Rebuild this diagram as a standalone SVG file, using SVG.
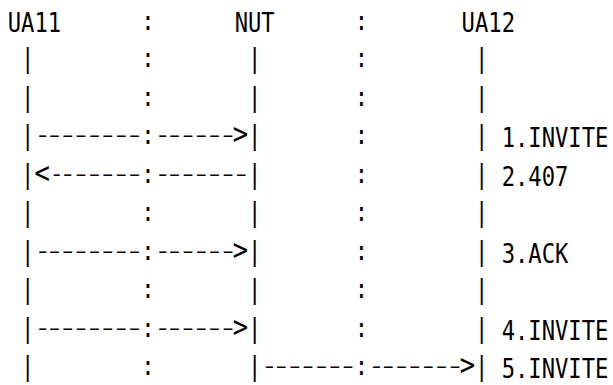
<svg xmlns="http://www.w3.org/2000/svg" width="613" height="385" viewBox="0 0 613 385">
<style>
text{font-family:"DejaVu Sans Mono","Liberation Mono",monospace;font-size:27px;fill:#000}
.d{font-size:20px}
.h{font-size:31px}
</style>
<rect width="613" height="385" fill="#fff"/>
<g transform="translate(7.7 0) scale(0.8213 1)">
<g id="ua11"><text x="0" y="32">UA11</text></g>
<g id="nut"><text x="276.34" y="32">NUT</text></g>
<g id="ua12"><text x="552.67" y="32">UA12</text></g>
<g id="separators">
<text x="162.55" y="30">:</text><text x="422.63" y="30">:</text>
<text x="162.55" y="67.2">:</text><text x="422.63" y="67.2">:</text>
<text x="162.55" y="105.7">:</text><text x="422.63" y="105.7">:</text>
<text x="422.63" y="144.2">:</text>
<text x="422.63" y="182.7">:</text>
<text x="162.55" y="221.2">:</text><text x="422.63" y="221.2">:</text>
<text x="422.63" y="259.7">:</text>
<text x="162.55" y="298.2">:</text><text x="422.63" y="298.2">:</text>
<text x="422.63" y="336.7">:</text>
<text x="162.55" y="375.2">:</text>
</g>
<g id="lifelines">
<text x="16.255" y="67.2">|</text><text x="292.59" y="67.2">|</text><text x="568.93" y="67.2">|</text>
<text x="16.255" y="105.7">|</text><text x="292.59" y="105.7">|</text><text x="568.93" y="105.7">|</text>
<text x="568.93" y="144.2">|</text>
<text x="568.93" y="182.7">|</text>
<text x="16.255" y="221.2">|</text><text x="292.59" y="221.2">|</text><text x="568.93" y="221.2">|</text>
<text x="568.93" y="259.7">|</text>
<text x="16.255" y="298.2">|</text><text x="292.59" y="298.2">|</text><text x="568.93" y="298.2">|</text>
<text x="568.93" y="336.7">|</text>
<text x="16.255" y="375.2">|</text>
</g>
<g id="connectors">
<text><tspan x="16.255" y="144.2">|</tspan><tspan class="d" x="32.51" y="142.2" textLength="20" lengthAdjust="spacingAndGlyphs">-</tspan><tspan class="d" x="44.395" y="142.2" textLength="25" lengthAdjust="spacingAndGlyphs">-</tspan><tspan class="d" x="60.65" y="142.2" textLength="25" lengthAdjust="spacingAndGlyphs">-</tspan><tspan class="d" x="76.905" y="142.2" textLength="25" lengthAdjust="spacingAndGlyphs">-</tspan><tspan class="d" x="93.16" y="142.2" textLength="25" lengthAdjust="spacingAndGlyphs">-</tspan><tspan class="d" x="109.415" y="142.2" textLength="25" lengthAdjust="spacingAndGlyphs">-</tspan><tspan class="d" x="125.67" y="142.2" textLength="25" lengthAdjust="spacingAndGlyphs">-</tspan><tspan class="d" x="141.925" y="142.2" textLength="25" lengthAdjust="spacingAndGlyphs">-</tspan><tspan x="162.55" y="144.2">:</tspan><tspan class="d" x="178.805" y="142.2" textLength="20" lengthAdjust="spacingAndGlyphs">-</tspan><tspan class="d" x="190.69" y="142.2" textLength="25" lengthAdjust="spacingAndGlyphs">-</tspan><tspan class="d" x="206.945" y="142.2" textLength="25" lengthAdjust="spacingAndGlyphs">-</tspan><tspan class="d" x="223.2" y="142.2" textLength="25" lengthAdjust="spacingAndGlyphs">-</tspan><tspan class="d" x="239.455" y="142.2" textLength="25" lengthAdjust="spacingAndGlyphs">-</tspan><tspan class="d" x="255.71" y="142.2" textLength="25" lengthAdjust="spacingAndGlyphs">-</tspan><tspan class="h" x="273.935" y="144.2">&gt;</tspan><tspan x="292.59" y="144.2">|</tspan></text>
<text><tspan x="16.255" y="182.7">|</tspan><tspan class="h" x="32.51" y="182.7">&lt;</tspan><tspan class="d" x="51.17" y="180.7" textLength="17" lengthAdjust="spacingAndGlyphs">-</tspan><tspan class="d" x="63.15" y="180.7" textLength="20" lengthAdjust="spacingAndGlyphs">-</tspan><tspan class="d" x="76.905" y="180.7" textLength="25" lengthAdjust="spacingAndGlyphs">-</tspan><tspan class="d" x="93.16" y="180.7" textLength="25" lengthAdjust="spacingAndGlyphs">-</tspan><tspan class="d" x="109.415" y="180.7" textLength="25" lengthAdjust="spacingAndGlyphs">-</tspan><tspan class="d" x="125.67" y="180.7" textLength="25" lengthAdjust="spacingAndGlyphs">-</tspan><tspan class="d" x="141.925" y="180.7" textLength="25" lengthAdjust="spacingAndGlyphs">-</tspan><tspan x="162.55" y="182.7">:</tspan><tspan class="d" x="178.805" y="180.7" textLength="20" lengthAdjust="spacingAndGlyphs">-</tspan><tspan class="d" x="190.69" y="180.7" textLength="25" lengthAdjust="spacingAndGlyphs">-</tspan><tspan class="d" x="206.945" y="180.7" textLength="25" lengthAdjust="spacingAndGlyphs">-</tspan><tspan class="d" x="223.2" y="180.7" textLength="25" lengthAdjust="spacingAndGlyphs">-</tspan><tspan class="d" x="239.455" y="180.7" textLength="25" lengthAdjust="spacingAndGlyphs">-</tspan><tspan class="d" x="255.71" y="180.7" textLength="25" lengthAdjust="spacingAndGlyphs">-</tspan><tspan class="d" x="271.965" y="180.7" textLength="25" lengthAdjust="spacingAndGlyphs">-</tspan><tspan x="292.59" y="182.7">|</tspan></text>
<text><tspan x="16.255" y="259.7">|</tspan><tspan class="d" x="32.51" y="257.7" textLength="20" lengthAdjust="spacingAndGlyphs">-</tspan><tspan class="d" x="44.395" y="257.7" textLength="25" lengthAdjust="spacingAndGlyphs">-</tspan><tspan class="d" x="60.65" y="257.7" textLength="25" lengthAdjust="spacingAndGlyphs">-</tspan><tspan class="d" x="76.905" y="257.7" textLength="25" lengthAdjust="spacingAndGlyphs">-</tspan><tspan class="d" x="93.16" y="257.7" textLength="25" lengthAdjust="spacingAndGlyphs">-</tspan><tspan class="d" x="109.415" y="257.7" textLength="25" lengthAdjust="spacingAndGlyphs">-</tspan><tspan class="d" x="125.67" y="257.7" textLength="25" lengthAdjust="spacingAndGlyphs">-</tspan><tspan class="d" x="141.925" y="257.7" textLength="25" lengthAdjust="spacingAndGlyphs">-</tspan><tspan x="162.55" y="259.7">:</tspan><tspan class="d" x="178.805" y="257.7" textLength="20" lengthAdjust="spacingAndGlyphs">-</tspan><tspan class="d" x="190.69" y="257.7" textLength="25" lengthAdjust="spacingAndGlyphs">-</tspan><tspan class="d" x="206.945" y="257.7" textLength="25" lengthAdjust="spacingAndGlyphs">-</tspan><tspan class="d" x="223.2" y="257.7" textLength="25" lengthAdjust="spacingAndGlyphs">-</tspan><tspan class="d" x="239.455" y="257.7" textLength="25" lengthAdjust="spacingAndGlyphs">-</tspan><tspan class="d" x="255.71" y="257.7" textLength="25" lengthAdjust="spacingAndGlyphs">-</tspan><tspan class="h" x="273.935" y="259.7">&gt;</tspan><tspan x="292.59" y="259.7">|</tspan></text>
<text><tspan x="16.255" y="336.7">|</tspan><tspan class="d" x="32.51" y="334.7" textLength="20" lengthAdjust="spacingAndGlyphs">-</tspan><tspan class="d" x="44.395" y="334.7" textLength="25" lengthAdjust="spacingAndGlyphs">-</tspan><tspan class="d" x="60.65" y="334.7" textLength="25" lengthAdjust="spacingAndGlyphs">-</tspan><tspan class="d" x="76.905" y="334.7" textLength="25" lengthAdjust="spacingAndGlyphs">-</tspan><tspan class="d" x="93.16" y="334.7" textLength="25" lengthAdjust="spacingAndGlyphs">-</tspan><tspan class="d" x="109.415" y="334.7" textLength="25" lengthAdjust="spacingAndGlyphs">-</tspan><tspan class="d" x="125.67" y="334.7" textLength="25" lengthAdjust="spacingAndGlyphs">-</tspan><tspan class="d" x="141.925" y="334.7" textLength="25" lengthAdjust="spacingAndGlyphs">-</tspan><tspan x="162.55" y="336.7">:</tspan><tspan class="d" x="178.805" y="334.7" textLength="20" lengthAdjust="spacingAndGlyphs">-</tspan><tspan class="d" x="190.69" y="334.7" textLength="25" lengthAdjust="spacingAndGlyphs">-</tspan><tspan class="d" x="206.945" y="334.7" textLength="25" lengthAdjust="spacingAndGlyphs">-</tspan><tspan class="d" x="223.2" y="334.7" textLength="25" lengthAdjust="spacingAndGlyphs">-</tspan><tspan class="d" x="239.455" y="334.7" textLength="25" lengthAdjust="spacingAndGlyphs">-</tspan><tspan class="d" x="255.71" y="334.7" textLength="25" lengthAdjust="spacingAndGlyphs">-</tspan><tspan class="h" x="273.935" y="336.7">&gt;</tspan><tspan x="292.59" y="336.7">|</tspan></text>
<text><tspan x="292.59" y="375.2">|</tspan><tspan class="d" x="308.845" y="373.2" textLength="20" lengthAdjust="spacingAndGlyphs">-</tspan><tspan class="d" x="320.73" y="373.2" textLength="25" lengthAdjust="spacingAndGlyphs">-</tspan><tspan class="d" x="336.985" y="373.2" textLength="25" lengthAdjust="spacingAndGlyphs">-</tspan><tspan class="d" x="353.24" y="373.2" textLength="25" lengthAdjust="spacingAndGlyphs">-</tspan><tspan class="d" x="369.495" y="373.2" textLength="25" lengthAdjust="spacingAndGlyphs">-</tspan><tspan class="d" x="385.75" y="373.2" textLength="25" lengthAdjust="spacingAndGlyphs">-</tspan><tspan class="d" x="402.005" y="373.2" textLength="25" lengthAdjust="spacingAndGlyphs">-</tspan><tspan x="422.63" y="375.2">:</tspan><tspan class="d" x="438.885" y="373.2" textLength="20" lengthAdjust="spacingAndGlyphs">-</tspan><tspan class="d" x="450.77" y="373.2" textLength="25" lengthAdjust="spacingAndGlyphs">-</tspan><tspan class="d" x="467.025" y="373.2" textLength="25" lengthAdjust="spacingAndGlyphs">-</tspan><tspan class="d" x="483.28" y="373.2" textLength="25" lengthAdjust="spacingAndGlyphs">-</tspan><tspan class="d" x="499.535" y="373.2" textLength="25" lengthAdjust="spacingAndGlyphs">-</tspan><tspan class="d" x="515.79" y="373.2" textLength="25" lengthAdjust="spacingAndGlyphs">-</tspan><tspan class="d" x="532.045" y="373.2" textLength="25" lengthAdjust="spacingAndGlyphs">-</tspan><tspan class="h" x="550.27" y="375.2">&gt;</tspan><tspan x="568.925" y="375.2">|</tspan></text>
</g>
<g id="labels">
<text x="601.44" y="147.5">1.INVITE</text>
<text x="601.44" y="186">2.407</text>
<text x="601.44" y="263">3.ACK</text>
<text x="601.44" y="340">4.INVITE</text>
<text x="601.44" y="378.5">5.INVITE</text>
</g>
</g>
</svg>
